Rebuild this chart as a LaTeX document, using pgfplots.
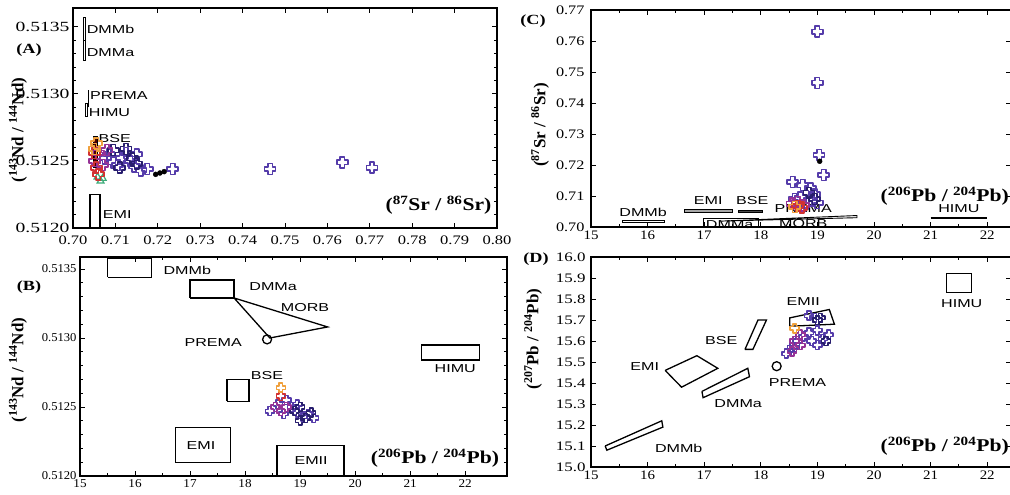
\documentclass[border=0pt]{standalone}
\usepackage{fontspec}
\setmainfont{Liberation Serif}
\newfontfamily\tickfont{Liberation Serif}
\newfontfamily\annfont{Liberation Sans}
\newfontfamily\labfont{Liberation Serif}
\usepackage{graphicx}
\usepackage{pgfplots}
\pgfplotsset{compat=1.18}
\newcommand{\SB}[2]{\scalebox{#1}[1]{#2}}

\definecolor{purp}{RGB}{85,60,170}
\definecolor{navy}{RGB}{40,30,110}
\definecolor{mag}{RGB}{150,50,150}
\definecolor{org}{RGB}{240,160,60}
\definecolor{redd}{RGB}{210,50,50}
\definecolor{grn}{RGB}{60,170,120}

\pgfdeclareplotmark{gcross}{%
 \pgfpathmoveto{\pgfqpoint{-0.4\pgfplotmarksize}{\pgfplotmarksize}}%
 \pgfpathlineto{\pgfqpoint{0.4\pgfplotmarksize}{\pgfplotmarksize}}%
 \pgfpathlineto{\pgfqpoint{0.4\pgfplotmarksize}{0.4\pgfplotmarksize}}%
 \pgfpathlineto{\pgfqpoint{\pgfplotmarksize}{0.4\pgfplotmarksize}}%
 \pgfpathlineto{\pgfqpoint{\pgfplotmarksize}{-0.4\pgfplotmarksize}}%
 \pgfpathlineto{\pgfqpoint{0.4\pgfplotmarksize}{-0.4\pgfplotmarksize}}%
 \pgfpathlineto{\pgfqpoint{0.4\pgfplotmarksize}{-\pgfplotmarksize}}%
 \pgfpathlineto{\pgfqpoint{-0.4\pgfplotmarksize}{-\pgfplotmarksize}}%
 \pgfpathlineto{\pgfqpoint{-0.4\pgfplotmarksize}{-0.4\pgfplotmarksize}}%
 \pgfpathlineto{\pgfqpoint{-\pgfplotmarksize}{-0.4\pgfplotmarksize}}%
 \pgfpathlineto{\pgfqpoint{-\pgfplotmarksize}{0.4\pgfplotmarksize}}%
 \pgfpathlineto{\pgfqpoint{-0.4\pgfplotmarksize}{0.4\pgfplotmarksize}}%
 \pgfpathclose
 \pgfusepathqstroke
}

\pgfplotsset{
  panel/.style={scale only axis, anchor=south west, clip=false,
    axis line style={line width=1.3pt},
    tick style={line width=0.9pt, black},
    major tick length=5pt, minor tick length=3pt,
    ticklabel style={font=\tickfont\fontsize{13}{14}\selectfont},
    /pgf/number format/assume math mode=true},
  mk/.style={only marks, mark=gcross, mark size=#1, mark options={line width=1.6pt, line join=round}},
  mk/.default=5.5pt,
  shp/.style={line width=1.3pt, black, mark=none},
}
\tikzset{
  ann/.style={font=\annfont\fontsize{11.5}{12}\selectfont, inner sep=0pt, xscale=1.4},
  xl/.style={font=\labfont\bfseries\fontsize{18}{19}\selectfont, inner sep=0pt, xscale=1.2},
}

\begin{document}
\begin{tikzpicture}[x=1pt,y=1pt]
\useasboundingbox (0,0) rectangle (1010,495);

% ---------------- Panel A ----------------
\begin{axis}[panel, at={(73pt,267pt)}, width=424pt, height=220pt,
  xmin=0.70, xmax=0.80, ymin=0.5120, ymax=0.51364,
  yticklabel style={font=\tickfont\fontsize{14}{15}\selectfont},
  xticklabel style={yshift=-4pt},
  xtick={0.70,0.71,0.72,0.73,0.74,0.75,0.76,0.77,0.78,0.79,0.80},
  xticklabels={\SB{1.27}{0.70},\SB{1.27}{0.71},\SB{1.27}{0.72},\SB{1.27}{0.73},\SB{1.27}{0.74},\SB{1.27}{0.75},\SB{1.27}{0.76},\SB{1.27}{0.77},\SB{1.27}{0.78},\SB{1.27}{0.79},\SB{1.27}{0.80}},
  ytick={0.5120,0.5125,0.5130,0.5135},
  yticklabels={\SB{1.4}{0.5120},\SB{1.4}{0.5125},\SB{1.4}{0.5130},\SB{1.4}{0.5135}},
  minor y tick num=4]
  \addplot[shp] coordinates {(0.7024,0.51340)(0.7030,0.51340)(0.7030,0.51357)(0.7024,0.51357)(0.7024,0.51340)};
  \addplot[shp] coordinates {(0.7024,0.51325)(0.7030,0.51325)(0.7030,0.51340)(0.7024,0.51340)(0.7024,0.51325)};
  \addplot[shp] coordinates {(0.7036,0.51290)(0.7036,0.51303)};
  \addplot[shp] coordinates {(0.7029,0.51283)(0.7035,0.51283)(0.7035,0.51293)(0.7029,0.51293)(0.7029,0.51283)};
  \addplot[shp, fill=black!70!red] coordinates {(0.7048,0.51245)(0.7057,0.51245)(0.7057,0.51268)(0.7048,0.51268)(0.7048,0.51245)};
  \addplot[shp] coordinates {(0.7040,0.5120)(0.7064,0.5120)(0.7064,0.51225)(0.7040,0.51225)(0.7040,0.5120)};
  \addplot[mk, grn, mark=triangle, mark size=4pt, mark options={line width=1.2pt}] coordinates {(0.7065,0.51235)(0.7058,0.51238)(0.7070,0.51237)};
  \addplot[mk, purp] coordinates {(0.7085,0.51255)(0.7095,0.51249)(0.7105,0.51247)(0.7115,0.51252)(0.7125,0.51256)(0.7135,0.51250)(0.7145,0.51246)(0.7150,0.51255)(0.7160,0.51243)(0.7175,0.51244)(0.7235,0.51244)(0.7465,0.51244)(0.7635,0.51249)(0.7705,0.51245)(0.7075,0.51252)};
  \addplot[mk, navy] coordinates {(0.7125,0.51259)(0.7140,0.51252)(0.7150,0.51248)(0.7095,0.51258)(0.7110,0.51245)};
  \addplot[mk, mag] coordinates {(0.7050,0.51250)(0.7060,0.51256)(0.7070,0.51247)(0.7080,0.51258)};
  \addplot[mk, redd] coordinates {(0.7055,0.51245)(0.7060,0.51240)(0.7050,0.51256)};
  \addplot[mk, org] coordinates {(0.7055,0.51263)(0.7050,0.51259)};
  \addplot[only marks, mark=*, mark size=2.5pt, black] coordinates {(0.7205,0.51241)(0.7195,0.51240)(0.7215,0.51242)};
  \node[ann, anchor=west] at (axis cs:0.7032,0.51348) {DMMb};
  \node[ann, anchor=west] at (axis cs:0.7032,0.51331) {DMMa};
  \node[ann, anchor=west] at (axis cs:0.7040,0.51299) {PREMA};
  \node[ann, anchor=west] at (axis cs:0.7037,0.51286) {HIMU};
  \node[ann, anchor=west] at (axis cs:0.7060,0.51267) {BSE};
  \node[ann, anchor=west] at (axis cs:0.7070,0.51210) {EMI};
  \node[xl] at (axis cs:0.7862,0.51217) {(\textsuperscript{87}Sr / \textsuperscript{86}Sr)};
\end{axis}

% ---------------- Panel C ----------------
\begin{axis}[panel, at={(591pt,268pt)}, width=420pt, height=217pt,
  xmin=15, xmax=22.42, ymin=0.70, ymax=0.77,
  yticklabel style={xshift=-3pt},
  xtick={15,16,17,18,19,20,21,22},
  xticklabels={\SB{1.15}{15},\SB{1.15}{16},\SB{1.15}{17},\SB{1.15}{18},\SB{1.15}{19},\SB{1.15}{20},\SB{1.15}{21},\SB{1.15}{22}},
  ytick={0.70,0.71,0.72,0.73,0.74,0.75,0.76,0.77},
  yticklabels={\SB{1.25}{0.70},\SB{1.25}{0.71},\SB{1.25}{0.72},\SB{1.25}{0.73},\SB{1.25}{0.74},\SB{1.25}{0.75},\SB{1.25}{0.76},\SB{1.25}{0.77}},
  minor x tick num=1]
  \addplot[shp, line width=0.9pt] coordinates {(15.55,0.7014)(16.3,0.7014)(16.3,0.7022)(15.55,0.7022)(15.55,0.7014)};
  \addplot[shp, line width=0.9pt, fill=black!35] coordinates {(16.65,0.7046)(17.5,0.7046)(17.5,0.7056)(16.65,0.7056)(16.65,0.7046)};
  \addplot[shp, line width=0.9pt, fill=black!70] coordinates {(17.6,0.7046)(18.02,0.7046)(18.02,0.7054)(17.6,0.7054)(17.6,0.7046)};
  \addplot[shp, line width=0.9pt] coordinates {(16.98,0.7000)(17.95,0.7000)(17.95,0.7026)(16.98,0.7026)(16.98,0.7000)};
  \addplot[shp, line width=0.9pt] coordinates {(17.3,0.7019)(19.7,0.7037)(19.7,0.7030)(17.3,0.7019)};
  \addplot[shp, line width=2pt] coordinates {(21.0,0.7028)(22.0,0.7028)};
  \addplot[mk, purp] coordinates {(19.00,0.7630)(19.00,0.7465)(19.03,0.7232)(19.11,0.7168)(18.56,0.7145)(18.74,0.7135)(18.88,0.7125)(18.95,0.7105)(18.70,0.7095)(18.90,0.7085)(19.00,0.7078)(18.80,0.7075)(18.60,0.7090)};
  \addplot[mk, navy] coordinates {(18.85,0.7110)(18.95,0.7090)};
  \addplot[mk, mag] coordinates {(18.55,0.7075)(18.75,0.7070)(18.65,0.7080)};
  \addplot[mk, redd] coordinates {(18.65,0.7068)(18.72,0.7062)};
  \addplot[mk, org] coordinates {(18.60,0.7065)};
  \addplot[only marks, mark=*, mark size=2.5pt, black] coordinates {(19.04,0.7212)};
  \node[ann] at (axis cs:15.92,0.7048) {DMMb};
  \node[ann] at (axis cs:17.07,0.7084) {EMI};
  \node[ann] at (axis cs:17.85,0.7084) {BSE};
  \node[ann] at (axis cs:18.75,0.7061) {PREMA};
  \node[ann] at (axis cs:17.45,0.7008) {DMMa};
  \node[ann] at (axis cs:18.75,0.7010) {MORB};
  \node[ann] at (axis cs:21.5,0.7059) {HIMU};
  \node[xl] at (axis cs:21.25,0.7100) {(\textsuperscript{206}Pb / \textsuperscript{204}Pb)};
\end{axis}

% ---------------- Panel B ----------------
\begin{axis}[panel, at={(80pt,19pt)}, width=427pt, height=219pt,
  xmin=15, xmax=22.76, ymin=0.5120, ymax=0.513587,
  ticklabel style={font=\tickfont\fontsize{12}{13}\selectfont},
  xtick={15,16,17,18,19,20,21,22},
  xticklabels={\SB{1.1}{15},\SB{1.1}{16},\SB{1.1}{17},\SB{1.1}{18},\SB{1.1}{19},\SB{1.1}{20},\SB{1.1}{21},\SB{1.1}{22}},
  ytick={0.5120,0.5125,0.5130,0.5135},
  yticklabels={\SB{1.05}{0.5120},\SB{1.05}{0.5125},\SB{1.05}{0.5130},\SB{1.05}{0.5135}},
  minor y tick num=4, minor x tick num=1]
  \addplot[shp] coordinates {(15.5,0.51344)(16.3,0.51344)(16.3,0.51358)(15.5,0.51358)(15.5,0.51344)};
  \addplot[shp] coordinates {(17.0,0.51329)(17.8,0.51329)(17.8,0.51342)(17.0,0.51342)(17.0,0.51329)};
  \addplot[shp] coordinates {(17.8,0.51329)(19.5,0.51308)(18.45,0.51300)(17.8,0.51329)};
  \addplot[only marks, mark=o, mark size=4.5pt, mark options={line width=1.3pt}, black] coordinates {(18.40,0.51299)};
  \addplot[shp] coordinates {(17.67,0.51254)(18.07,0.51254)(18.07,0.51270)(17.67,0.51270)(17.67,0.51254)};
  \addplot[shp] coordinates {(21.2,0.51284)(22.26,0.51284)(22.26,0.51295)(21.2,0.51295)(21.2,0.51284)};
  \addplot[shp] coordinates {(16.73,0.51210)(17.73,0.51210)(17.73,0.51235)(16.73,0.51235)(16.73,0.51210)};
  \addplot[shp] coordinates {(18.58,0.5120)(18.58,0.51222)(19.8,0.51222)(19.8,0.5120)};
  \addplot[mk=4.5pt, purp] coordinates {(18.45,0.51247)(18.60,0.51252)(18.75,0.51255)(18.85,0.51250)(18.95,0.51246)(19.05,0.51243)(19.15,0.51245)(18.95,0.51252)(18.70,0.51245)(19.25,0.51242)};
  \addplot[mk=4.5pt, navy] coordinates {(18.90,0.51247)(19.00,0.51250)(19.10,0.51242)(19.00,0.51240)(19.20,0.51246)};
  \addplot[mk=4.5pt, mag] coordinates {(18.55,0.51250)(18.65,0.51247)(18.75,0.51250)};
  \addplot[mk=4.5pt, redd] coordinates {(18.65,0.51258)};
  \addplot[mk=4.5pt, org] coordinates {(18.65,0.51264)};
  \node[ann] at (axis cs:16.95,0.51349) {DMMb};
  \node[ann] at (axis cs:18.51,0.51337) {DMMa};
  \node[ann] at (axis cs:19.09,0.51322) {MORB};
  \node[ann] at (axis cs:17.42,0.51297) {PREMA};
  \node[ann] at (axis cs:18.40,0.51273) {BSE};
  \node[ann] at (axis cs:21.82,0.51278) {HIMU};
  \node[ann] at (axis cs:17.20,0.51222) {EMI};
  \node[ann] at (axis cs:19.20,0.51211) {EMII};
  \node[xl] at (axis cs:21.45,0.51213) {(\textsuperscript{206}Pb / \textsuperscript{204}Pb)};
\end{axis}

% ---------------- Panel D ----------------
\begin{axis}[panel, at={(591pt,28pt)}, width=420pt, height=210pt,
  xmin=15, xmax=22.42, ymin=15.0, ymax=16.0,
  yticklabel style={xshift=-2pt},
  xtick={15,16,17,18,19,20,21,22},
  xticklabels={\SB{1.15}{15},\SB{1.15}{16},\SB{1.15}{17},\SB{1.15}{18},\SB{1.15}{19},\SB{1.15}{20},\SB{1.15}{21},\SB{1.15}{22}},
  ytick={15.0,15.1,15.2,15.3,15.4,15.5,15.6,15.7,15.8,15.9,16.0},
  yticklabels={\SB{1.3}{15.0},\SB{1.3}{15.1},\SB{1.3}{15.2},\SB{1.3}{15.3},\SB{1.3}{15.4},\SB{1.3}{15.5},\SB{1.3}{15.6},\SB{1.3}{15.7},\SB{1.3}{15.8},\SB{1.3}{15.9},\SB{1.3}{16.0}},
  minor x tick num=1]
  \addplot[shp] coordinates {(21.28,15.83)(21.72,15.83)(21.72,15.92)(21.28,15.92)(21.28,15.83)};
  \addplot[shp] coordinates {(18.51,15.67)(18.51,15.71)(19.21,15.75)(19.30,15.68)(18.51,15.67)};
  \addplot[shp] coordinates {(17.72,15.56)(17.95,15.70)(18.10,15.70)(17.86,15.56)(17.72,15.56)};
  \addplot[shp] coordinates {(16.31,15.46)(16.87,15.53)(17.24,15.47)(16.60,15.38)(16.31,15.46)};
  \addplot[shp] coordinates {(16.96,15.36)(17.77,15.47)(17.80,15.43)(16.98,15.33)(16.96,15.36)};
  \addplot[shp] coordinates {(15.25,15.10)(16.25,15.22)(16.27,15.19)(15.28,15.08)(15.25,15.10)};
  \addplot[only marks, mark=o, mark size=4.5pt, mark options={line width=1.3pt}, black] coordinates {(18.28,15.48)};
  \addplot[mk=4.5pt, purp] coordinates {(18.45,15.54)(18.55,15.57)(18.65,15.60)(18.75,15.62)(18.90,15.60)(19.00,15.58)(19.10,15.61)(19.20,15.63)(18.85,15.64)(19.00,15.65)(18.85,15.72)(18.95,15.71)(18.60,15.57)};
  \addplot[mk=4.5pt, navy] coordinates {(19.00,15.70)(19.05,15.71)(19.15,15.60)};
  \addplot[mk=4.5pt, mag] coordinates {(18.60,15.60)(18.70,15.58)(18.55,15.55)(18.70,15.63)};
  \addplot[mk=4.5pt, org] coordinates {(18.60,15.66)};
  \node[ann] at (axis cs:21.55,15.78) {HIMU};
  \node[ann] at (axis cs:18.75,15.79) {EMII};
  \node[ann] at (axis cs:17.30,15.60) {BSE};
  \node[ann] at (axis cs:15.95,15.48) {EMI};
  \node[ann] at (axis cs:17.60,15.30) {DMMa};
  \node[ann] at (axis cs:18.65,15.40) {PREMA};
  \node[ann] at (axis cs:16.55,15.09) {DMMb};
  \node[xl] at (axis cs:21.25,15.10) {(\textsuperscript{206}Pb / \textsuperscript{204}Pb)};
\end{axis}

% panel letters and y labels
\node[font=\labfont\bfseries\fontsize{14}{15}\selectfont, xscale=1.3] at (29,445) {(A)};
\node[font=\labfont\bfseries\fontsize{14}{15}\selectfont, xscale=1.3] at (533,474) {(C)};
\node[font=\labfont\bfseries\fontsize{14}{15}\selectfont, xscale=1.3] at (29,208) {(B)};
\node[font=\labfont\bfseries\fontsize{14}{15}\selectfont, xscale=1.3] at (536,236) {(D)};
\node[font=\labfont\bfseries\fontsize{17}{18}\selectfont, rotate=90] at (18,365) {(\textsuperscript{143}Nd / \textsuperscript{144}Nd)};
\node[font=\labfont\bfseries\fontsize{17}{18}\selectfont, rotate=90] at (18,125) {(\textsuperscript{143}Nd / \textsuperscript{144}Nd)};
\node[font=\labfont\bfseries\fontsize{17}{18}\selectfont, rotate=90] at (540,370) {(\textsuperscript{87}Sr / \textsuperscript{86}Sr)};
\node[font=\labfont\bfseries\fontsize{17}{18}\selectfont, rotate=90] at (533,156) {(\textsuperscript{207}Pb / \textsuperscript{204}Pb)};
\end{tikzpicture}
\end{document}
